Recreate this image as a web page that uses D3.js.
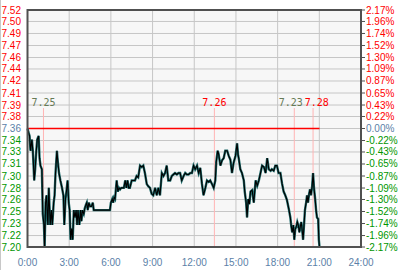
<!DOCTYPE html>
<html>
<head>
<meta charset="utf-8">
<script src="https://cdn.jsdelivr.net/npm/d3@7"></script>
<style>
  body { margin: 0; background: #fff; }
  text { font-family: "Liberation Sans", Arial, sans-serif; font-size: 10px; }
  .ann { font-family: "DejaVu Sans Mono", monospace; font-size: 10px; }
</style>
</head>
<body>
<div class="chart"></div>
<script>
//chart size
var size = {'w' : 403, 'h' : 270};
var box = {'left' : 27.5, 'right' : 361, 'top' : 10, 'bottom' : 247};

//previous close and the percent ticks
var basePrice = 7.36;
var pctTicks = [2.17, 1.96, 1.74, 1.52, 1.30, 1.09, 0.87, 0.65, 0.43, 0.22, 0.00,
  -0.22, -0.43, -0.65, -0.87, -1.09, -1.30, -1.52, -1.74, -1.96, -2.17];
var priceLabels = ['7.52', '7.50', '7.49', '7.47', '7.46', '7.44', '7.42', '7.41', '7.39', '7.38', '7.36',
  '7.34', '7.33', '7.31', '7.30', '7.28', '7.26', '7.25', '7.23', '7.22', '7.20'];
var pctLabels = ['2.17%', '1.96%', '1.74%', '1.52%', '1.30%', '1.09%', '0.87%', '0.65%', '0.43%', '0.22%', '0.00%',
  '-0.22%', '-0.43%', '-0.65%', '-0.87%', '-1.09%', '-1.30%', '-1.52%', '-1.74%', '-1.96%', '-2.17%'];

//time axis (minutes from midnight)
var hourTicks = [0, 180, 360, 540, 720, 900, 1080, 1260, 1440];
var hourLabels = ['0:00', '3:00', '6:00', '9:00', '12:00', '15:00', '18:00', '21:00', '24:00'];

//price series
var times = [0, 4, 9, 13, 19, 23, 29, 33, 38, 42, 48, 52, 56, 62, 66, 71, 74, 78, 82, 86,
  88, 92, 98, 103, 107, 113, 117, 121, 127, 131, 136, 142, 149, 155, 159, 164, 168, 173, 178, 182,
  186, 191, 195, 200, 205, 210, 214, 218, 224, 229, 233, 237, 243, 247, 252, 256, 260, 265, 270, 276,
  282, 286, 356, 360, 366, 370, 374, 378, 385, 390, 395, 400, 405, 411, 416, 422, 427, 432, 437, 442,
  450, 457, 464, 471, 478, 486, 493, 500, 507, 515, 522, 529, 536, 543, 551, 558, 565, 572, 580, 587,
  594, 601, 608, 616, 623, 630, 637, 645, 652, 659, 666, 674, 681, 688, 695, 703, 710, 717, 724, 732,
  739, 746, 753, 760, 768, 775, 782, 789, 797, 804, 811, 815, 821, 825, 833, 840, 847, 854, 862, 869,
  876, 883, 890, 898, 905, 909, 912, 919, 926, 934, 938, 944, 948, 953, 958, 963, 970, 977, 985, 992,
  999, 1006, 1013, 1021, 1028, 1035, 1042, 1050, 1055, 1063, 1070, 1077, 1084, 1092, 1099, 1106, 1113, 1120, 1128, 1135,
  1139, 1143, 1148, 1152, 1156, 1161, 1165, 1169, 1174, 1178, 1182, 1187, 1190, 1194, 1198, 1203, 1207, 1211, 1216, 1220,
  1224, 1229, 1233, 1237, 1242, 1246, 1250, 1255, 1258, 1261];
var prices = [7.36, 7.355, 7.35, 7.33, 7.345, 7.33, 7.29, 7.305, 7.33, 7.345, 7.35, 7.32, 7.31, 7.305, 7.245, 7.23, 7.20, 7.26, 7.27, 7.24,
  7.23, 7.28, 7.23, 7.25, 7.23, 7.26, 7.27, 7.30, 7.33, 7.315, 7.30, 7.29, 7.28, 7.27, 7.23, 7.265, 7.275, 7.29, 7.26, 7.25,
  7.21, 7.225, 7.21, 7.25, 7.24, 7.25, 7.23, 7.25, 7.23, 7.25, 7.235, 7.25, 7.245, 7.252, 7.257, 7.26, 7.25, 7.26, 7.255, 7.255,
  7.26, 7.25, 7.25, 7.26, 7.265, 7.26, 7.267, 7.265, 7.29, 7.275, 7.28, 7.278, 7.28, 7.28, 7.28, 7.29, 7.28, 7.29, 7.28, 7.28,
  7.29, 7.29, 7.29, 7.296, 7.294, 7.31, 7.308, 7.31, 7.30, 7.285, 7.282, 7.28, 7.272, 7.27, 7.28, 7.27, 7.28, 7.27, 7.30, 7.296,
  7.30, 7.31, 7.29, 7.29, 7.296, 7.298, 7.30, 7.298, 7.30, 7.30, 7.29, 7.296, 7.30, 7.298, 7.298, 7.30, 7.30, 7.31, 7.305, 7.31,
  7.30, 7.307, 7.286, 7.27, 7.28, 7.29, 7.288, 7.29, 7.285, 7.28, 7.29, 7.315, 7.33, 7.326, 7.31, 7.317, 7.32, 7.33, 7.33, 7.323,
  7.318, 7.30, 7.314, 7.323, 7.34, 7.325, 7.32, 7.305, 7.30, 7.29, 7.275, 7.26, 7.24, 7.265, 7.258, 7.275, 7.277, 7.26, 7.29, 7.283,
  7.29, 7.30, 7.31, 7.308, 7.30, 7.32, 7.305, 7.303, 7.305, 7.303, 7.31, 7.31, 7.30, 7.30, 7.286, 7.275, 7.27, 7.264, 7.252, 7.24,
  7.228, 7.22, 7.23, 7.21, 7.224, 7.228, 7.234, 7.23, 7.22, 7.228, 7.234, 7.22, 7.21, 7.23, 7.25, 7.26, 7.27, 7.26, 7.272, 7.278,
  7.27, 7.282, 7.30, 7.28, 7.265, 7.25, 7.24, 7.238, 7.21, 7.20];

//marked highs and lows
var annTimes = [69, 807, 1152, 1233];
var annLabels = ['7.25', '7.26', '7.23', '7.28'];
var annKinds = ['low', 'high', 'low', 'high'];

var colors = {'up' : '#ff0000', 'down' : '#009600', 'flat' : '#5b7fa8', 'low' : '#667a55', 'high' : '#ff0000'};

var svg = d3.select('.chart')
  .append('svg')
    .attr('width', size.w)
    .attr('height', size.h);

//scales
var x = d3.scaleLinear().domain([0, 1440]).range([box.left, box.right]);
var y = d3.scaleLinear()
  .domain([basePrice * (1 - 0.0217), basePrice * (1 + 0.0217)])
  .range([box.bottom, box.top]);
var tickPrice = function(p){ return basePrice * (1 + p / 100); };
var tickColor = function(p){ return p > 0 ? colors.up : (p < 0 ? colors.down : colors.flat); };

//outer left edge
svg.append('line')
  .attr('x1', 0.5).attr('x2', 0.5).attr('y1', 0).attr('y2', size.h)
  .attr('stroke', '#c8c8c8');

//plot background
svg.append('rect')
  .attr('x', box.left).attr('y', box.top)
  .attr('width', box.right - box.left).attr('height', box.bottom - box.top)
  .attr('fill', '#f7f7f7');

//grid
svg.append('g').selectAll('line').data(pctTicks).enter()
  .append('line')
    .attr('x1', box.left).attr('x2', box.right)
    .attr('y1', function(d){ return y(tickPrice(d)); })
    .attr('y2', function(d){ return y(tickPrice(d)); })
    .attr('stroke', '#c6c6c6');
svg.append('g').selectAll('line').data(hourTicks).enter()
  .append('line')
    .attr('x1', function(d){ return x(d); })
    .attr('x2', function(d){ return x(d); })
    .attr('y1', box.top).attr('y2', box.bottom)
    .attr('stroke', '#c6c6c6');

//pink markers
var anns = annTimes.map(function(t, i){
  return {'x' : x(t), 'cx' : x(t), 'label' : annLabels[i], 'kind' : annKinds[i]};
});
var annW = 24;
for(var i = 1; i < anns.length; i++){
  var gap = (anns[i].cx - annW / 2) - (anns[i - 1].cx + annW / 2);
  if(gap < 2){
    var shift = (2 - gap) / 2;
    anns[i - 1].cx -= shift;
    anns[i].cx += shift;
  }
}
svg.append('g').selectAll('line').data(anns).enter()
  .append('line')
    .attr('x1', function(d){ return d.x; })
    .attr('x2', function(d){ return d.x; })
    .attr('y1', 108).attr('y2', box.bottom)
    .attr('stroke', '#ffb4b4');
svg.append('g').selectAll('text').data(anns).enter()
  .append('text')
    .attr('class', 'ann')
    .attr('x', function(d){ return d.cx; })
    .attr('y', 106)
    .attr('text-anchor', 'middle')
    .attr('fill', function(d){ return colors[d.kind]; })
    .text(function(d){ return d.label; });

//previous close line up to last trade
svg.append('line')
  .attr('x1', box.left).attr('x2', x(times[times.length - 1]))
  .attr('y1', y(basePrice)).attr('y2', y(basePrice))
  .attr('stroke', '#ff0000').attr('stroke-width', 1.5);

//price line
var series = times.map(function(t, i){ return {'t' : t, 'p' : prices[i]}; });
var line = d3.line()
  .x(function(d){ return x(d.t); })
  .y(function(d){ return y(d.p); });
svg.append('path').datum(series)
  .attr('d', line).attr('fill', 'none')
  .attr('stroke', '#1f6b6b').attr('stroke-width', 2.4);
svg.append('path').datum(series)
  .attr('d', line).attr('fill', 'none')
  .attr('stroke', '#000').attr('stroke-width', 1.1);

//frame
svg.append('rect')
  .attr('x', box.left).attr('y', box.top)
  .attr('width', box.right - box.left).attr('height', box.bottom - box.top)
  .attr('fill', 'none').attr('stroke', '#505050').attr('stroke-width', 2);

//left price labels
svg.append('g').selectAll('text').data(pctTicks).enter()
  .append('text')
    .attr('x', 21)
    .attr('y', function(d){ return y(tickPrice(d)); })
    .attr('dy', '0.35em')
    .attr('text-anchor', 'end')
    .attr('fill', tickColor)
    .text(function(d, i){ return priceLabels[i]; });

//right percent ticks and labels
svg.append('g').selectAll('line').data(pctTicks).enter()
  .append('line')
    .attr('x1', box.right).attr('x2', box.right + 4)
    .attr('y1', function(d){ return y(tickPrice(d)); })
    .attr('y2', function(d){ return y(tickPrice(d)); })
    .attr('stroke', '#505050');
svg.append('g').selectAll('text').data(pctTicks).enter()
  .append('text')
    .attr('x', box.right + 5)
    .attr('y', function(d){ return y(tickPrice(d)); })
    .attr('dy', '0.35em')
    .attr('fill', tickColor)
    .text(function(d, i){ return pctLabels[i]; });

//time labels
svg.append('g').selectAll('text').data(hourTicks).enter()
  .append('text')
    .attr('x', function(d){ return x(d); })
    .attr('y', 266)
    .attr('text-anchor', 'middle')
    .attr('fill', colors.flat)
    .text(function(d, i){ return hourLabels[i]; });
</script>
</body>
</html>
